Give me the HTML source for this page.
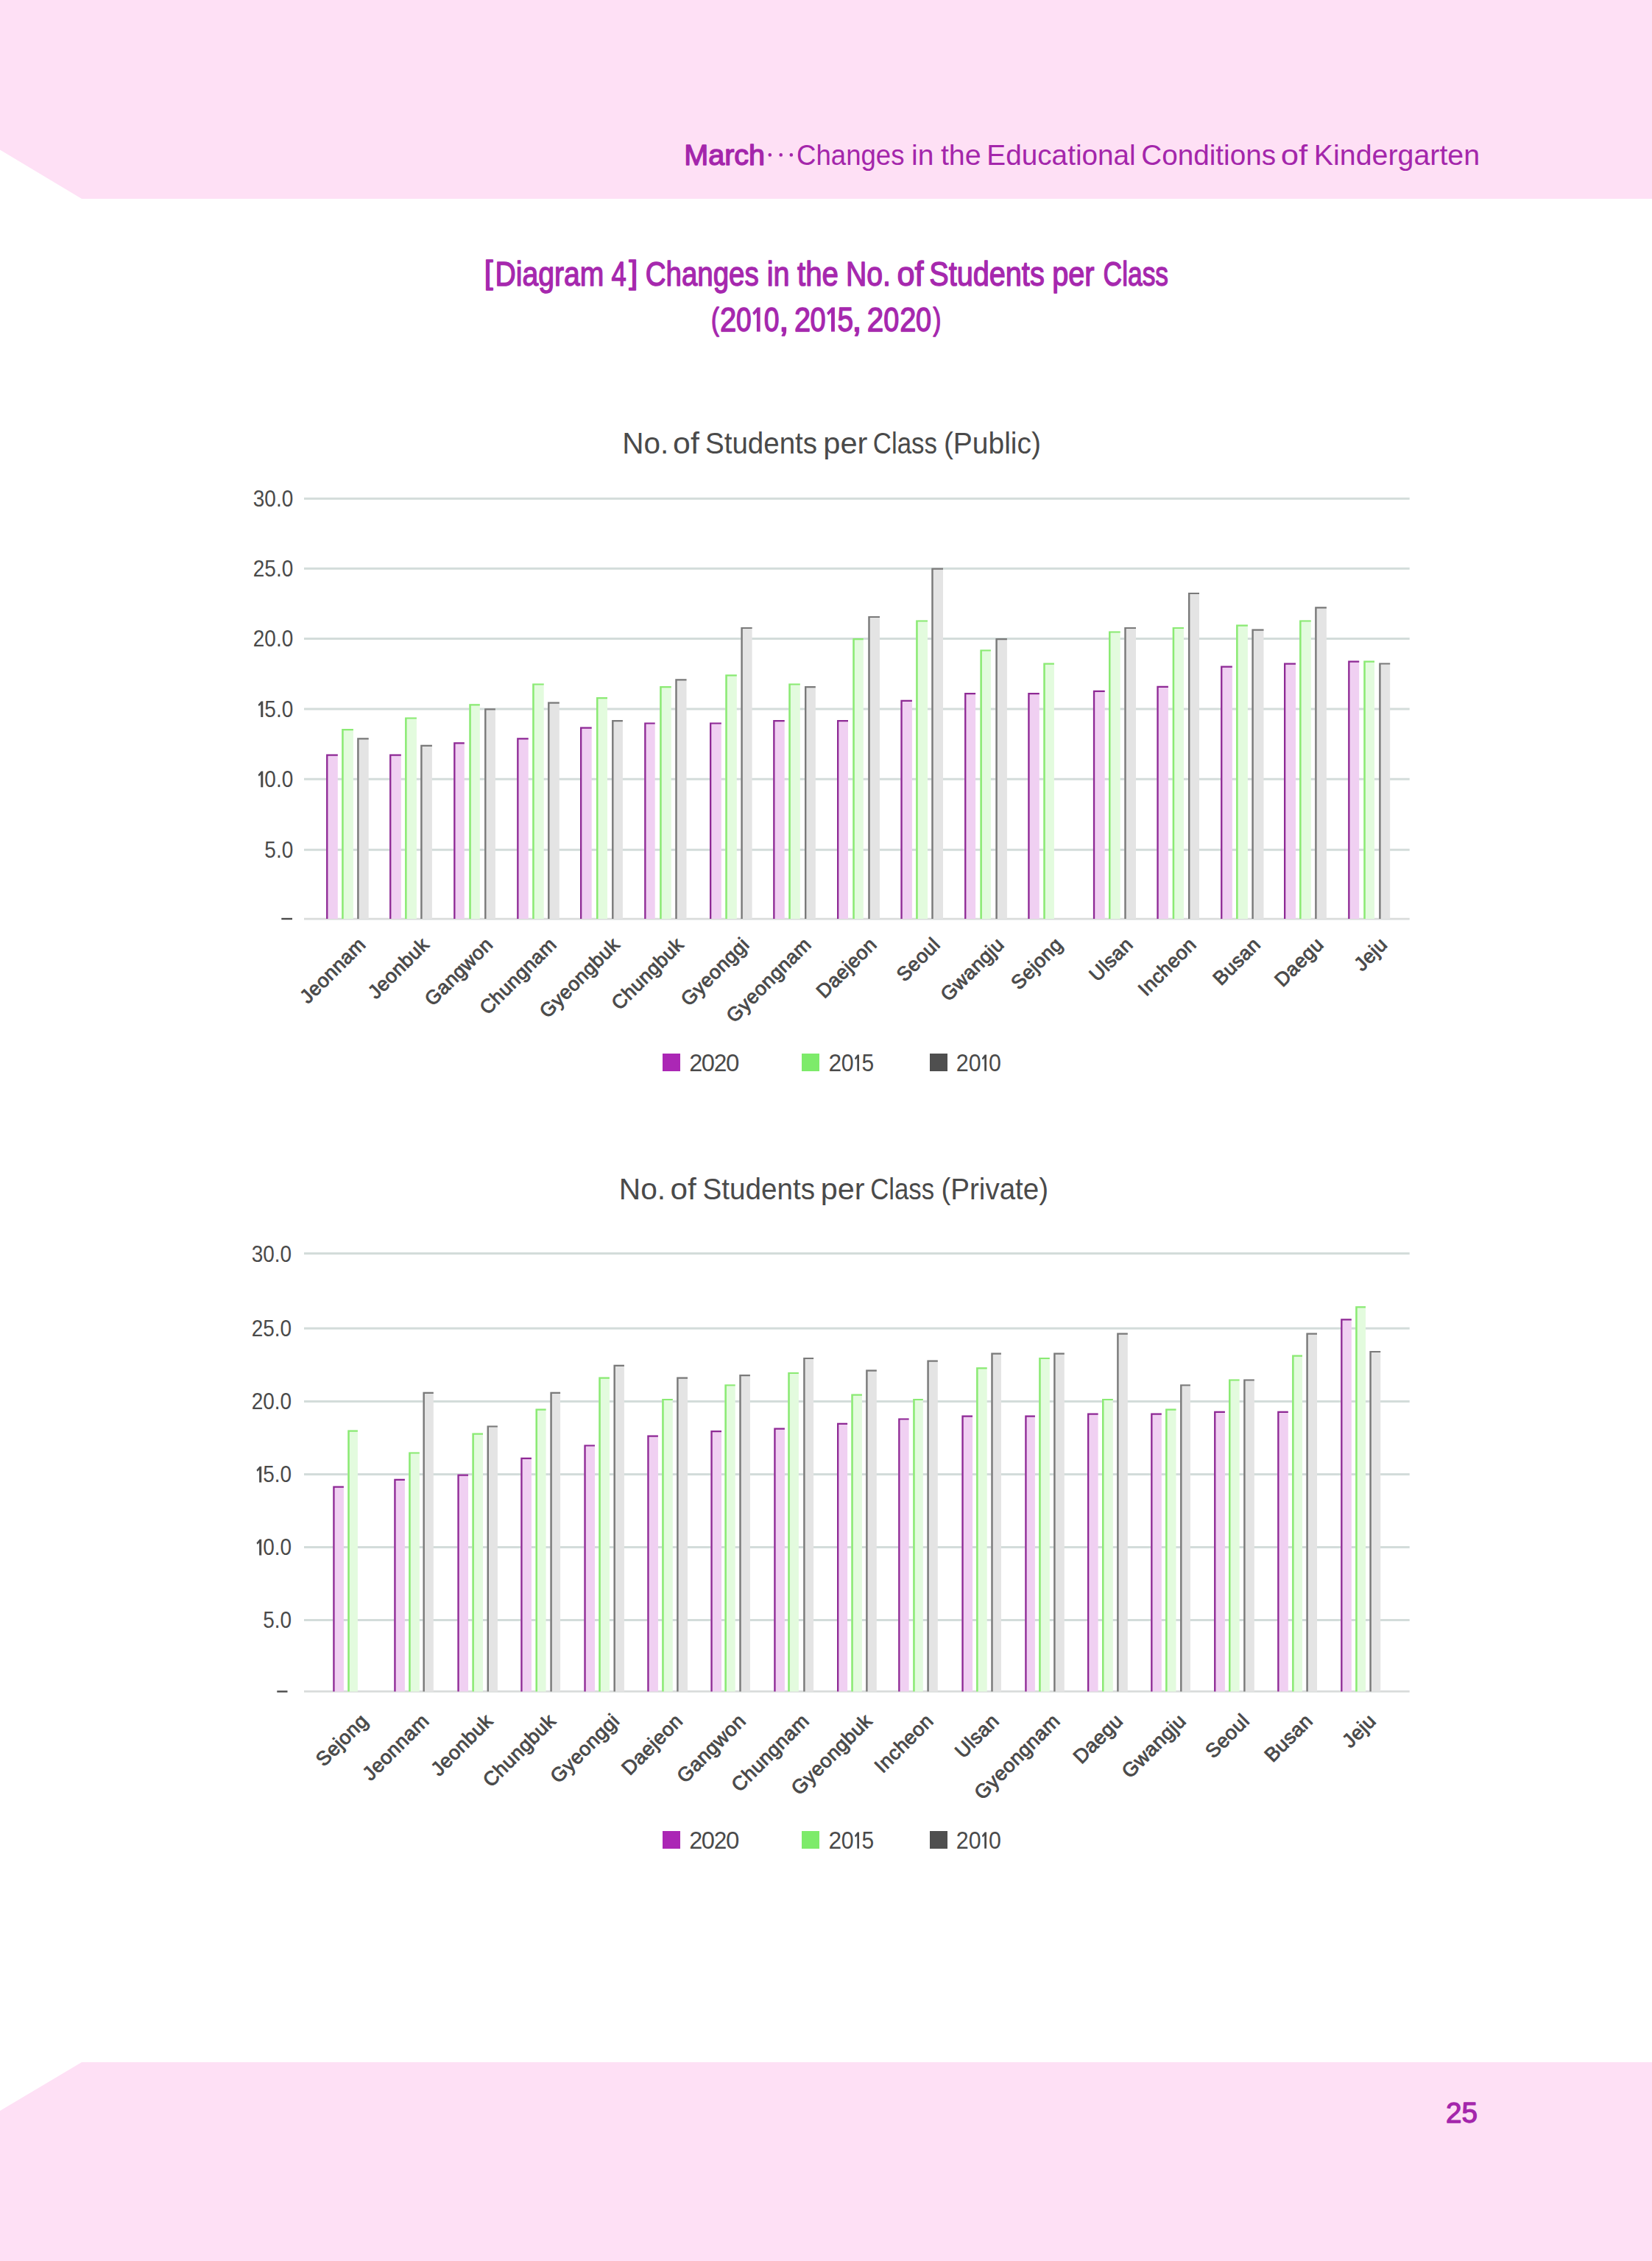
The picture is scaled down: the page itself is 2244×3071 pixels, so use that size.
<!DOCTYPE html>
<html lang="en"><head><meta charset="utf-8"><title>Diagram 4</title>
<style>html,body{margin:0;padding:0;background:#fff}body{width:2244px;height:3071px;overflow:hidden;font-family:"Liberation Sans",sans-serif}svg{display:block}text{font-family:"Liberation Sans",sans-serif;white-space:pre}</style>
</head><body>
<svg width="2244" height="3071" viewBox="0 0 2244 3071">
<polygon points="0,0 2244,0 2244,270 111,270 0,203.5" fill="#FEE0F5"/>
<polygon points="0,2867 111,2801 2244,2801 2244,3071 0,3071" fill="#FEE0F5"/>
<g fill="#A426AB">
<g stroke="#A426AB" stroke-width="1.4" stroke-linejoin="round">
<text transform="matrix(1.0134 0 0 1 929.26 223.90)" font-size="39">March</text>
</g>
<circle cx="1045.8" cy="210.4" r="2.3"/>
<circle cx="1060.7" cy="210.4" r="2.3"/>
<circle cx="1074.8" cy="210.4" r="2.3"/>
<text transform="matrix(0.9383 0 0 1 1082.04 223.90)" font-size="39">Changes</text>
<text transform="matrix(0.9995 0 0 1 1237.99 223.90)" font-size="39">in</text>
<text transform="matrix(1.0117 0 0 1 1277.90 223.90)" font-size="39">the</text>
<text transform="matrix(0.9934 0 0 1 1340.32 223.90)" font-size="39">Educational</text>
<text transform="matrix(0.9923 0 0 1 1550.23 223.90)" font-size="39">Conditions</text>
<text transform="matrix(1.1214 0 0 1 1739.66 223.90)" font-size="39">of</text>
<text transform="matrix(1.0088 0 0 1 1784.87 223.90)" font-size="39">Kindergarten</text>
</g>
<g fill="#A628AE" stroke="#A628AE" stroke-width="1.4" stroke-linejoin="round">
<text transform="matrix(0.9950 0 0 1 657.48 385.00)" font-size="44">[</text>
<text transform="matrix(1.0064 0 0 1 854.25 385.00)" font-size="44">]</text>
<text transform="matrix(0.8508 0 0 1 672.49 387.70)" font-size="46">Diagram</text>
<text transform="matrix(0.7938 0 0 1 830.56 387.70)" font-size="46">4</text>
<text transform="matrix(0.8355 0 0 1 876.85 387.70)" font-size="46">Changes</text>
<text transform="matrix(0.8608 0 0 1 1041.75 387.70)" font-size="46">in</text>
<text transform="matrix(0.8741 0 0 1 1082.99 387.70)" font-size="46">the</text>
<text transform="matrix(0.8521 0 0 1 1148.98 387.70)" font-size="46">No.</text>
<text transform="matrix(0.9398 0 0 1 1218.38 387.70)" font-size="46">of</text>
<text transform="matrix(0.8621 0 0 1 1262.20 387.70)" font-size="46">Students</text>
<text transform="matrix(0.8637 0 0 1 1429.14 387.70)" font-size="46">per</text>
<text transform="matrix(0.7692 0 0 1 1498.60 387.70)" font-size="46">Class</text>
</g>
<g fill="#A628AE" stroke="#A628AE" stroke-width="1.5" stroke-linejoin="round">
<text transform="matrix(0.7632 0 0 1 966.04 447.80)" font-size="42.5">(</text>
<text transform="matrix(0.7632 0 0 1 1267.56 447.80)" font-size="42.5">)</text>
<text transform="matrix(0.8647 0 0 1 977.94 450.30)" font-size="46.2">2</text>
<text transform="matrix(0.8015 0 0 1 1000.00 450.30)" font-size="46.2">0</text>
<text transform="matrix(0.8060 0 0 1 1037.70 450.30)" font-size="46.2">0</text>
<text transform="matrix(1.1027 0 0 1 1057.87 450.30)" font-size="46.2">,</text>
<text transform="matrix(0.8600 0 0 1 1078.95 450.30)" font-size="46.2">2</text>
<text transform="matrix(0.8196 0 0 1 1100.47 450.30)" font-size="46.2">0</text>
<text transform="matrix(0.8400 0 0 1 1137.50 450.30)" font-size="46.2">5</text>
<text transform="matrix(1.0365 0 0 1 1157.25 450.30)" font-size="46.2">,</text>
<text transform="matrix(0.8742 0 0 1 1177.82 450.30)" font-size="46.2">2</text>
<text transform="matrix(0.8196 0 0 1 1200.17 450.30)" font-size="46.2">0</text>
<text transform="matrix(0.8600 0 0 1 1222.15 450.30)" font-size="46.2">2</text>
<text transform="matrix(0.8196 0 0 1 1244.07 450.30)" font-size="46.2">0</text>
</g>
<g fill="#A628AE">
<polygon points="1032.60,417.60 1032.60,450.60 1027.90,450.60 1027.90,424.30 1024.31,428.19 1022.10,424.99 1028.61,417.60"/>
<polygon points="1133.90,417.60 1133.90,450.60 1129.02,450.60 1129.02,424.30 1125.29,428.19 1123.00,424.99 1129.76,417.60"/>
</g>
<g fill="#4A4A4A">
<text transform="matrix(0.9758 0 0 1 845.18 615.90)" font-size="41.5">No.</text>
<text transform="matrix(1.0325 0 0 1 914.10 615.90)" font-size="41.5">of</text>
<text transform="matrix(0.9281 0 0 1 958.05 615.90)" font-size="41.5">Students</text>
<text transform="matrix(1.0032 0 0 1 1118.32 615.90)" font-size="41.5">per</text>
<text transform="matrix(0.8406 0 0 1 1185.73 615.90)" font-size="41.5">Class</text>
<text transform="matrix(0.9393 0 0 1 1281.88 615.90)" font-size="41.5">(Public)</text>
</g>
<g stroke="#D3DCDA" stroke-width="3">
<line x1="413" x2="1914.7" y1="1154.3" y2="1154.3"/>
<line x1="413" x2="1914.7" y1="1058.3" y2="1058.3"/>
<line x1="413" x2="1914.7" y1="963.1" y2="963.1"/>
<line x1="413" x2="1914.7" y1="867.5" y2="867.5"/>
<line x1="413" x2="1914.7" y1="772.2" y2="772.2"/>
<line x1="413" x2="1914.7" y1="677.3" y2="677.3"/>
</g>
<line x1="413" x2="1914.7" y1="1248.1" y2="1248.1" stroke="#D9DCDB" stroke-width="2.6"/>
<g fill="#4A4A4A">
<text transform="matrix(0.8900 0 0 1 359.34 1165.20)" font-size="31.4">5.0</text>
<text transform="matrix(0.8900 0 0 1 359.34 1069.20)" font-size="31.4">0.0</text>
<polygon points="357.30,1047.60 357.30,1069.20 354.25,1069.20 354.25,1051.98 351.93,1054.53 350.50,1052.44 354.72,1047.60"/>
<text transform="matrix(0.8900 0 0 1 359.34 974.00)" font-size="31.4">5.0</text>
<polygon points="357.30,952.40 357.30,974.00 354.25,974.00 354.25,956.78 351.93,959.33 350.50,957.24 354.72,952.40"/>
<text transform="matrix(0.8900 0 0 1 343.80 878.40)" font-size="31.4">20.0</text>
<text transform="matrix(0.8900 0 0 1 343.80 783.10)" font-size="31.4">25.0</text>
<text transform="matrix(0.8900 0 0 1 343.80 688.20)" font-size="31.4">30.0</text>
</g>
<rect x="382.3" y="1246.8" width="14.7" height="2.4" fill="#4A4A4A"/>
<g fill="#F0D0F2">
<rect x="443.1" y="1024.5" width="15.7" height="223.5"/>
<rect x="529.1" y="1024.5" width="15.7" height="223.5"/>
<rect x="616.2" y="1008.3" width="14.6" height="239.7"/>
<rect x="702.2" y="1002.2" width="15.5" height="245.8"/>
<rect x="788.0" y="987.5" width="15.7" height="260.5"/>
<rect x="875.2" y="981.4" width="14.5" height="266.6"/>
<rect x="964.0" y="981.4" width="15.8" height="266.6"/>
<rect x="1050.2" y="978.0" width="15.5" height="270.0"/>
<rect x="1137.0" y="978.0" width="15.0" height="270.0"/>
<rect x="1223.4" y="950.7" width="15.5" height="297.3"/>
<rect x="1310.1" y="941.0" width="15.0" height="307.0"/>
<rect x="1396.3" y="941.0" width="15.5" height="307.0"/>
<rect x="1484.9" y="937.8" width="15.8" height="310.2"/>
<rect x="1571.4" y="931.8" width="15.5" height="316.2"/>
<rect x="1658.1" y="904.6" width="15.7" height="343.4"/>
<rect x="1744.0" y="900.5" width="16.0" height="347.5"/>
<rect x="1831.2" y="897.5" width="15.0" height="350.5"/>
</g>
<g fill="#8E2A95">
<path d="M443.1 1248.0V1024.5H458.8v2.2H445.4V1248.0z"/>
<path d="M529.1 1248.0V1024.5H544.8v2.2H531.4V1248.0z"/>
<path d="M616.2 1248.0V1008.3H630.8v2.2H618.5V1248.0z"/>
<path d="M702.2 1248.0V1002.2H717.7v2.2H704.5V1248.0z"/>
<path d="M788.0 1248.0V987.5H803.7v2.2H790.3V1248.0z"/>
<path d="M875.2 1248.0V981.4H889.7v2.2H877.5V1248.0z"/>
<path d="M964.0 1248.0V981.4H979.8v2.2H966.3V1248.0z"/>
<path d="M1050.2 1248.0V978.0H1065.7v2.2H1052.5V1248.0z"/>
<path d="M1137.0 1248.0V978.0H1152.0v2.2H1139.3V1248.0z"/>
<path d="M1223.4 1248.0V950.7H1238.9v2.2H1225.7V1248.0z"/>
<path d="M1310.1 1248.0V941.0H1325.1v2.2H1312.4V1248.0z"/>
<path d="M1396.3 1248.0V941.0H1411.8v2.2H1398.6V1248.0z"/>
<path d="M1484.9 1248.0V937.8H1500.7v2.2H1487.2V1248.0z"/>
<path d="M1571.4 1248.0V931.8H1586.9v2.2H1573.7V1248.0z"/>
<path d="M1658.1 1248.0V904.6H1673.8v2.2H1660.4V1248.0z"/>
<path d="M1744.0 1248.0V900.5H1760.0v2.2H1746.3V1248.0z"/>
<path d="M1831.2 1248.0V897.5H1846.2v2.2H1833.5V1248.0z"/>
</g>
<g fill="#E3FBDE">
<rect x="464.2" y="990.1" width="15.7" height="257.9"/>
<rect x="550.1" y="974.4" width="15.8" height="273.6"/>
<rect x="637.3" y="956.2" width="14.5" height="291.8"/>
<rect x="723.2" y="928.4" width="15.5" height="319.6"/>
<rect x="810.0" y="947.0" width="15.0" height="301.0"/>
<rect x="896.2" y="932.0" width="15.5" height="316.0"/>
<rect x="985.3" y="916.3" width="15.5" height="331.7"/>
<rect x="1071.3" y="928.4" width="15.5" height="319.6"/>
<rect x="1158.3" y="867.1" width="14.5" height="380.9"/>
<rect x="1244.2" y="842.4" width="15.8" height="405.6"/>
<rect x="1331.4" y="882.4" width="14.5" height="365.6"/>
<rect x="1417.3" y="900.5" width="14.6" height="347.5"/>
<rect x="1506.0" y="857.4" width="15.7" height="390.6"/>
<rect x="1592.7" y="851.9" width="15.3" height="396.1"/>
<rect x="1679.1" y="848.5" width="15.8" height="399.5"/>
<rect x="1765.1" y="842.4" width="15.7" height="405.6"/>
<rect x="1852.3" y="897.5" width="14.7" height="350.5"/>
</g>
<g fill="#8BEA74">
<path d="M464.2 1248.0V990.1H479.9v2.2H466.7V1248.0z"/>
<path d="M550.1 1248.0V974.4H565.9v2.2H552.6V1248.0z"/>
<path d="M637.3 1248.0V956.2H651.8v2.2H639.8V1248.0z"/>
<path d="M723.2 1248.0V928.4H738.7v2.2H725.7V1248.0z"/>
<path d="M810.0 1248.0V947.0H825.0v2.2H812.5V1248.0z"/>
<path d="M896.2 1248.0V932.0H911.7v2.2H898.7V1248.0z"/>
<path d="M985.3 1248.0V916.3H1000.8v2.2H987.8V1248.0z"/>
<path d="M1071.3 1248.0V928.4H1086.8v2.2H1073.8V1248.0z"/>
<path d="M1158.3 1248.0V867.1H1172.8v2.2H1160.8V1248.0z"/>
<path d="M1244.2 1248.0V842.4H1260.0v2.2H1246.7V1248.0z"/>
<path d="M1331.4 1248.0V882.4H1345.9v2.2H1333.9V1248.0z"/>
<path d="M1417.3 1248.0V900.5H1431.9v2.2H1419.8V1248.0z"/>
<path d="M1506.0 1248.0V857.4H1521.7v2.2H1508.5V1248.0z"/>
<path d="M1592.7 1248.0V851.9H1608.0v2.2H1595.2V1248.0z"/>
<path d="M1679.1 1248.0V848.5H1694.9v2.2H1681.6V1248.0z"/>
<path d="M1765.1 1248.0V842.4H1780.8v2.2H1767.6V1248.0z"/>
<path d="M1852.3 1248.0V897.5H1867.0v2.2H1854.8V1248.0z"/>
</g>
<g fill="#E4E4E4">
<rect x="485.2" y="1002.2" width="15.5" height="245.8"/>
<rect x="571.2" y="1011.7" width="15.7" height="236.3"/>
<rect x="658.1" y="962.3" width="14.8" height="285.7"/>
<rect x="744.1" y="953.6" width="15.7" height="294.4"/>
<rect x="831.1" y="978.0" width="14.8" height="270.0"/>
<rect x="917.3" y="922.3" width="15.2" height="325.7"/>
<rect x="1006.4" y="851.9" width="15.2" height="396.1"/>
<rect x="1093.0" y="932.0" width="14.8" height="316.0"/>
<rect x="1179.3" y="836.9" width="15.7" height="411.1"/>
<rect x="1265.3" y="771.5" width="15.7" height="476.5"/>
<rect x="1352.4" y="867.1" width="15.5" height="380.9"/>
<rect x="1527.3" y="851.9" width="15.7" height="396.1"/>
<rect x="1614.0" y="804.9" width="15.0" height="443.1"/>
<rect x="1700.4" y="854.5" width="16.1" height="393.5"/>
<rect x="1786.2" y="824.3" width="15.7" height="423.7"/>
<rect x="1873.2" y="900.4" width="15.0" height="347.6"/>
</g>
<g fill="#7A7A7A">
<path d="M485.2 1248.0V1002.2H500.7v2.2H487.6V1248.0z"/>
<path d="M571.2 1248.0V1011.7H586.9v2.2H573.6V1248.0z"/>
<path d="M658.1 1248.0V962.3H672.9v2.2H660.5V1248.0z"/>
<path d="M744.1 1248.0V953.6H759.8v2.2H746.5V1248.0z"/>
<path d="M831.1 1248.0V978.0H845.9v2.2H833.5V1248.0z"/>
<path d="M917.3 1248.0V922.3H932.5v2.2H919.7V1248.0z"/>
<path d="M1006.4 1248.0V851.9H1021.6v2.2H1008.8V1248.0z"/>
<path d="M1093.0 1248.0V932.0H1107.8v2.2H1095.4V1248.0z"/>
<path d="M1179.3 1248.0V836.9H1195.0v2.2H1181.7V1248.0z"/>
<path d="M1265.3 1248.0V771.5H1281.0v2.2H1267.7V1248.0z"/>
<path d="M1352.4 1248.0V867.1H1367.9v2.2H1354.8V1248.0z"/>
<path d="M1527.3 1248.0V851.9H1543.0v2.2H1529.7V1248.0z"/>
<path d="M1614.0 1248.0V804.9H1629.0v2.2H1616.4V1248.0z"/>
<path d="M1700.4 1248.0V854.5H1716.5v2.2H1702.8V1248.0z"/>
<path d="M1786.2 1248.0V824.3H1801.9v2.2H1788.6V1248.0z"/>
<path d="M1873.2 1248.0V900.4H1888.2v2.2H1875.6V1248.0z"/>
</g>
<g font-size="26.6" fill="#4A4A4A" stroke="#4A4A4A" stroke-width="0.9" stroke-linejoin="round" letter-spacing="0.55" text-anchor="end">
<text x="498.4" y="1284.5" transform="rotate(-45 498.4 1284.5)">Jeonnam</text>
<text x="584.5" y="1284.5" transform="rotate(-45 584.5 1284.5)">Jeonbuk</text>
<text x="671.0" y="1284.5" transform="rotate(-45 671.0 1284.5)">Gangwon</text>
<text x="757.5" y="1284.5" transform="rotate(-45 757.5 1284.5)">Chungnam</text>
<text x="843.5" y="1284.5" transform="rotate(-45 843.5 1284.5)">Gyeongbuk</text>
<text x="930.4" y="1284.5" transform="rotate(-45 930.4 1284.5)">Chungbuk</text>
<text x="1019.3" y="1284.5" transform="rotate(-45 1019.3 1284.5)">Gyeonggi</text>
<text x="1103.5" y="1284.5" transform="rotate(-45 1103.5 1284.5)">Gyeongnam</text>
<text x="1192.5" y="1284.5" transform="rotate(-45 1192.5 1284.5)">Daejeon</text>
<text x="1278.7" y="1284.5" transform="rotate(-45 1278.7 1284.5)">Seoul</text>
<text x="1365.5" y="1284.5" transform="rotate(-45 1365.5 1284.5)">Gwangju</text>
<text x="1445.1" y="1284.5" transform="rotate(-45 1445.1 1284.5)">Sejong</text>
<text x="1540.5" y="1284.5" transform="rotate(-45 1540.5 1284.5)">Ulsan</text>
<text x="1626.7" y="1284.5" transform="rotate(-45 1626.7 1284.5)">Incheon</text>
<text x="1713.8" y="1284.5" transform="rotate(-45 1713.8 1284.5)">Busan</text>
<text x="1799.5" y="1284.5" transform="rotate(-45 1799.5 1284.5)">Daegu</text>
<text x="1886.2" y="1284.5" transform="rotate(-45 1886.2 1284.5)">Jeju</text>
</g>
<rect x="900" y="1431" width="24" height="24" fill="#AB27B5"/>
<rect x="1089" y="1431" width="24" height="24" fill="#7DEB6A"/>
<rect x="1263" y="1431" width="24" height="24" fill="#4F4F4F"/>
<g fill="#4A4A4A">
<text transform="matrix(1.0058 0 0 1 936.37 1454.70)" font-size="32.3">2</text>
<text transform="matrix(1.0103 0 0 1 952.83 1454.70)" font-size="32.3">0</text>
<text transform="matrix(0.9786 0 0 1 969.71 1454.70)" font-size="32.3">2</text>
<text transform="matrix(1.0233 0 0 1 986.11 1454.70)" font-size="32.3">0</text>
<text transform="matrix(0.9854 0 0 1 1125.60 1454.70)" font-size="32.3">2</text>
<text transform="matrix(0.9391 0 0 1 1142.72 1454.70)" font-size="32.3">0</text>
<text transform="matrix(0.9272 0 0 1 1170.50 1454.70)" font-size="32.3">5</text>
<text transform="matrix(0.9446 0 0 1 1298.77 1454.70)" font-size="32.3">2</text>
<text transform="matrix(0.9391 0 0 1 1315.82 1454.70)" font-size="32.3">0</text>
<text transform="matrix(0.9391 0 0 1 1343.02 1454.70)" font-size="32.3">0</text>
<polygon points="1167.00,1432.40 1167.00,1454.70 1164.27,1454.70 1164.27,1436.93 1162.18,1439.56 1160.90,1437.40 1164.68,1432.40"/>
<polygon points="1340.00,1432.40 1340.00,1454.70 1337.22,1454.70 1337.22,1436.93 1335.10,1439.56 1333.80,1437.40 1337.64,1432.40"/>
</g>
<g fill="#4A4A4A">
<text transform="matrix(0.9811 0 0 1 840.76 1628.90)" font-size="41.5">No.</text>
<text transform="matrix(1.0204 0 0 1 910.42 1628.90)" font-size="41.5">of</text>
<text transform="matrix(0.9306 0 0 1 954.55 1628.90)" font-size="41.5">Students</text>
<text transform="matrix(0.9979 0 0 1 1114.73 1628.90)" font-size="41.5">per</text>
<text transform="matrix(0.8376 0 0 1 1182.13 1628.90)" font-size="41.5">Class</text>
<text transform="matrix(0.9298 0 0 1 1278.41 1628.90)" font-size="41.5">(Private)</text>
</g>
<g stroke="#D3DCDA" stroke-width="3">
<line x1="413" x2="1914.7" y1="2200.4" y2="2200.4"/>
<line x1="413" x2="1914.7" y1="2101.5" y2="2101.5"/>
<line x1="413" x2="1914.7" y1="2002.5" y2="2002.5"/>
<line x1="413" x2="1914.7" y1="1903.5" y2="1903.5"/>
<line x1="413" x2="1914.7" y1="1804.2" y2="1804.2"/>
<line x1="413" x2="1914.7" y1="1702.6" y2="1702.6"/>
</g>
<line x1="413" x2="1914.7" y1="2297.4" y2="2297.4" stroke="#D9DCDB" stroke-width="2.6"/>
<g fill="#4A4A4A">
<text transform="matrix(0.8900 0 0 1 357.24 2211.30)" font-size="31.4">5.0</text>
<text transform="matrix(0.8900 0 0 1 357.24 2112.40)" font-size="31.4">0.0</text>
<polygon points="355.20,2090.80 355.20,2112.40 352.15,2112.40 352.15,2095.18 349.83,2097.73 348.40,2095.64 352.62,2090.80"/>
<text transform="matrix(0.8900 0 0 1 357.24 2013.40)" font-size="31.4">5.0</text>
<polygon points="355.20,1991.80 355.20,2013.40 352.15,2013.40 352.15,1996.18 349.83,1998.73 348.40,1996.64 352.62,1991.80"/>
<text transform="matrix(0.8900 0 0 1 341.70 1914.40)" font-size="31.4">20.0</text>
<text transform="matrix(0.8900 0 0 1 341.70 1815.10)" font-size="31.4">25.0</text>
<text transform="matrix(0.8900 0 0 1 341.70 1713.50)" font-size="31.4">30.0</text>
</g>
<rect x="376.3" y="2296.3" width="14.2" height="2.4" fill="#4A4A4A"/>
<g fill="#F0D0F2">
<rect x="452.3" y="2018.6" width="14.6" height="278.9"/>
<rect x="535.3" y="2008.7" width="14.6" height="288.8"/>
<rect x="621.4" y="2002.6" width="14.6" height="294.9"/>
<rect x="707.3" y="1979.7" width="14.6" height="317.8"/>
<rect x="793.4" y="1962.4" width="14.6" height="335.1"/>
<rect x="879.3" y="1949.5" width="14.6" height="348.0"/>
<rect x="965.4" y="1943.0" width="14.6" height="354.5"/>
<rect x="1051.3" y="1939.6" width="14.6" height="357.9"/>
<rect x="1137.0" y="1932.7" width="14.1" height="364.8"/>
<rect x="1220.2" y="1926.4" width="14.4" height="371.1"/>
<rect x="1306.4" y="1922.5" width="14.6" height="375.0"/>
<rect x="1392.3" y="1922.5" width="13.6" height="375.0"/>
<rect x="1477.0" y="1919.6" width="14.6" height="377.9"/>
<rect x="1563.2" y="1919.6" width="14.6" height="377.9"/>
<rect x="1649.1" y="1916.7" width="14.8" height="380.8"/>
<rect x="1735.2" y="1916.7" width="14.6" height="380.8"/>
<rect x="1821.2" y="1791.3" width="14.6" height="506.2"/>
</g>
<g fill="#8E2A95">
<path d="M452.3 2297.5V2018.6H466.9v2.2H454.6V2297.5z"/>
<path d="M535.3 2297.5V2008.7H549.9v2.2H537.6V2297.5z"/>
<path d="M621.4 2297.5V2002.6H636.0v2.2H623.7V2297.5z"/>
<path d="M707.3 2297.5V1979.7H721.9v2.2H709.6V2297.5z"/>
<path d="M793.4 2297.5V1962.4H808.0v2.2H795.7V2297.5z"/>
<path d="M879.3 2297.5V1949.5H893.9v2.2H881.6V2297.5z"/>
<path d="M965.4 2297.5V1943.0H980.0v2.2H967.7V2297.5z"/>
<path d="M1051.3 2297.5V1939.6H1065.9v2.2H1053.6V2297.5z"/>
<path d="M1137.0 2297.5V1932.7H1151.1v2.2H1139.3V2297.5z"/>
<path d="M1220.2 2297.5V1926.4H1234.6v2.2H1222.5V2297.5z"/>
<path d="M1306.4 2297.5V1922.5H1321.0v2.2H1308.7V2297.5z"/>
<path d="M1392.3 2297.5V1922.5H1405.9v2.2H1394.6V2297.5z"/>
<path d="M1477.0 2297.5V1919.6H1491.6v2.2H1479.3V2297.5z"/>
<path d="M1563.2 2297.5V1919.6H1577.8v2.2H1565.5V2297.5z"/>
<path d="M1649.1 2297.5V1916.7H1663.9v2.2H1651.4V2297.5z"/>
<path d="M1735.2 2297.5V1916.7H1749.8v2.2H1737.5V2297.5z"/>
<path d="M1821.2 2297.5V1791.3H1835.8v2.2H1823.5V2297.5z"/>
</g>
<g fill="#E3FBDE">
<rect x="472.3" y="1942.5" width="13.6" height="355.0"/>
<rect x="555.2" y="1972.4" width="14.6" height="325.1"/>
<rect x="641.4" y="1946.6" width="14.6" height="350.9"/>
<rect x="727.5" y="1913.5" width="14.1" height="384.0"/>
<rect x="813.3" y="1870.5" width="14.6" height="427.0"/>
<rect x="899.2" y="1899.9" width="14.6" height="397.6"/>
<rect x="984.4" y="1880.4" width="14.3" height="417.1"/>
<rect x="1070.3" y="1863.9" width="14.6" height="433.6"/>
<rect x="1156.3" y="1893.6" width="14.6" height="403.9"/>
<rect x="1240.2" y="1899.9" width="13.6" height="397.6"/>
<rect x="1326.1" y="1857.3" width="14.6" height="440.2"/>
<rect x="1411.2" y="1843.9" width="14.6" height="453.6"/>
<rect x="1497.0" y="1899.9" width="14.8" height="397.6"/>
<rect x="1583.1" y="1913.5" width="14.4" height="384.0"/>
<rect x="1669.0" y="1873.4" width="14.6" height="424.1"/>
<rect x="1755.1" y="1840.5" width="13.9" height="457.0"/>
<rect x="1841.2" y="1774.3" width="13.8" height="523.2"/>
</g>
<g fill="#8BEA74">
<path d="M472.3 2297.5V1942.5H485.9v2.2H474.8V2297.5z"/>
<path d="M555.2 2297.5V1972.4H569.8v2.2H557.7V2297.5z"/>
<path d="M641.4 2297.5V1946.6H656.0v2.2H643.9V2297.5z"/>
<path d="M727.5 2297.5V1913.5H741.6v2.2H730.0V2297.5z"/>
<path d="M813.3 2297.5V1870.5H827.9v2.2H815.8V2297.5z"/>
<path d="M899.2 2297.5V1899.9H913.8v2.2H901.7V2297.5z"/>
<path d="M984.4 2297.5V1880.4H998.7v2.2H986.9V2297.5z"/>
<path d="M1070.3 2297.5V1863.9H1084.9v2.2H1072.8V2297.5z"/>
<path d="M1156.3 2297.5V1893.6H1170.9v2.2H1158.8V2297.5z"/>
<path d="M1240.2 2297.5V1899.9H1253.8v2.2H1242.7V2297.5z"/>
<path d="M1326.1 2297.5V1857.3H1340.7v2.2H1328.6V2297.5z"/>
<path d="M1411.2 2297.5V1843.9H1425.8v2.2H1413.7V2297.5z"/>
<path d="M1497.0 2297.5V1899.9H1511.8v2.2H1499.5V2297.5z"/>
<path d="M1583.1 2297.5V1913.5H1597.5v2.2H1585.6V2297.5z"/>
<path d="M1669.0 2297.5V1873.4H1683.6v2.2H1671.5V2297.5z"/>
<path d="M1755.1 2297.5V1840.5H1769.0v2.2H1757.6V2297.5z"/>
<path d="M1841.2 2297.5V1774.3H1855.0v2.2H1843.7V2297.5z"/>
</g>
<g fill="#E4E4E4">
<rect x="574.5" y="1890.7" width="14.3" height="406.8"/>
<rect x="661.6" y="1936.4" width="14.3" height="361.1"/>
<rect x="747.4" y="1890.7" width="13.7" height="406.8"/>
<rect x="833.5" y="1853.7" width="14.4" height="443.8"/>
<rect x="919.2" y="1870.5" width="14.8" height="427.0"/>
<rect x="1004.3" y="1867.1" width="14.6" height="430.4"/>
<rect x="1091.2" y="1843.9" width="13.9" height="453.6"/>
<rect x="1176.2" y="1860.5" width="14.6" height="437.0"/>
<rect x="1259.4" y="1847.6" width="14.4" height="449.9"/>
<rect x="1346.3" y="1837.6" width="13.6" height="459.9"/>
<rect x="1431.2" y="1837.6" width="14.6" height="459.9"/>
<rect x="1517.2" y="1810.6" width="14.6" height="486.9"/>
<rect x="1603.1" y="1880.4" width="13.8" height="417.1"/>
<rect x="1689.2" y="1873.4" width="14.6" height="424.1"/>
<rect x="1774.4" y="1810.6" width="14.6" height="486.9"/>
<rect x="1860.4" y="1834.9" width="14.8" height="462.6"/>
</g>
<g fill="#7A7A7A">
<path d="M574.5 2297.5V1890.7H588.8v2.2H576.9V2297.5z"/>
<path d="M661.6 2297.5V1936.4H675.9v2.2H664.0V2297.5z"/>
<path d="M747.4 2297.5V1890.7H761.1v2.2H749.8V2297.5z"/>
<path d="M833.5 2297.5V1853.7H847.9v2.2H835.9V2297.5z"/>
<path d="M919.2 2297.5V1870.5H934.0v2.2H921.6V2297.5z"/>
<path d="M1004.3 2297.5V1867.1H1018.9v2.2H1006.7V2297.5z"/>
<path d="M1091.2 2297.5V1843.9H1105.1v2.2H1093.6V2297.5z"/>
<path d="M1176.2 2297.5V1860.5H1190.8v2.2H1178.6V2297.5z"/>
<path d="M1259.4 2297.5V1847.6H1273.8v2.2H1261.8V2297.5z"/>
<path d="M1346.3 2297.5V1837.6H1359.9v2.2H1348.7V2297.5z"/>
<path d="M1431.2 2297.5V1837.6H1445.8v2.2H1433.6V2297.5z"/>
<path d="M1517.2 2297.5V1810.6H1531.8v2.2H1519.6V2297.5z"/>
<path d="M1603.1 2297.5V1880.4H1616.9v2.2H1605.5V2297.5z"/>
<path d="M1689.2 2297.5V1873.4H1703.8v2.2H1691.6V2297.5z"/>
<path d="M1774.4 2297.5V1810.6H1789.0v2.2H1776.8V2297.5z"/>
<path d="M1860.4 2297.5V1834.9H1875.2v2.2H1862.8V2297.5z"/>
</g>
<g font-size="26.9" fill="#4A4A4A" stroke="#4A4A4A" stroke-width="0.9" stroke-linejoin="round" letter-spacing="0.55" text-anchor="end">
<text x="501.6" y="2339.0" transform="rotate(-45 501.6 2339.0)">Sejong</text>
<text x="584.5" y="2339.0" transform="rotate(-45 584.5 2339.0)">Jeonnam</text>
<text x="671.1" y="2339.0" transform="rotate(-45 671.1 2339.0)">Jeonbuk</text>
<text x="756.7" y="2339.0" transform="rotate(-45 756.7 2339.0)">Chungbuk</text>
<text x="843.1" y="2339.0" transform="rotate(-45 843.1 2339.0)">Gyeonggi</text>
<text x="929.1" y="2339.0" transform="rotate(-45 929.1 2339.0)">Daejeon</text>
<text x="1014.6" y="2339.0" transform="rotate(-45 1014.6 2339.0)">Gangwon</text>
<text x="1100.7" y="2339.0" transform="rotate(-45 1100.7 2339.0)">Chungnam</text>
<text x="1186.4" y="2339.0" transform="rotate(-45 1186.4 2339.0)">Gyeongbuk</text>
<text x="1269.5" y="2339.0" transform="rotate(-45 1269.5 2339.0)">Incheon</text>
<text x="1358.7" y="2339.0" transform="rotate(-45 1358.7 2339.0)">Ulsan</text>
<text x="1441.5" y="2339.0" transform="rotate(-45 1441.5 2339.0)">Gyeongnam</text>
<text x="1526.9" y="2339.0" transform="rotate(-45 1526.9 2339.0)">Daegu</text>
<text x="1612.6" y="2339.0" transform="rotate(-45 1612.6 2339.0)">Gwangju</text>
<text x="1698.9" y="2339.0" transform="rotate(-45 1698.9 2339.0)">Seoul</text>
<text x="1784.6" y="2339.0" transform="rotate(-45 1784.6 2339.0)">Busan</text>
<text x="1870.7" y="2339.0" transform="rotate(-45 1870.7 2339.0)">Jeju</text>
</g>
<rect x="900" y="2487" width="24" height="24" fill="#AB27B5"/>
<rect x="1089" y="2487" width="24" height="24" fill="#7DEB6A"/>
<rect x="1263" y="2487" width="24" height="24" fill="#4F4F4F"/>
<g fill="#4A4A4A">
<text transform="matrix(1.0058 0 0 1 936.37 2510.70)" font-size="32.3">2</text>
<text transform="matrix(1.0103 0 0 1 952.83 2510.70)" font-size="32.3">0</text>
<text transform="matrix(0.9786 0 0 1 969.71 2510.70)" font-size="32.3">2</text>
<text transform="matrix(1.0233 0 0 1 986.11 2510.70)" font-size="32.3">0</text>
<text transform="matrix(0.9854 0 0 1 1125.60 2510.70)" font-size="32.3">2</text>
<text transform="matrix(0.9391 0 0 1 1142.72 2510.70)" font-size="32.3">0</text>
<text transform="matrix(0.9272 0 0 1 1170.50 2510.70)" font-size="32.3">5</text>
<text transform="matrix(0.9446 0 0 1 1298.77 2510.70)" font-size="32.3">2</text>
<text transform="matrix(0.9391 0 0 1 1315.82 2510.70)" font-size="32.3">0</text>
<text transform="matrix(0.9391 0 0 1 1343.02 2510.70)" font-size="32.3">0</text>
<polygon points="1167.00,2488.40 1167.00,2510.70 1164.27,2510.70 1164.27,2492.93 1162.18,2495.56 1160.90,2493.40 1164.68,2488.40"/>
<polygon points="1340.00,2488.40 1340.00,2510.70 1337.22,2510.70 1337.22,2492.93 1335.10,2495.56 1333.80,2493.40 1337.64,2488.40"/>
</g>
<g fill="#A426AB" stroke="#A426AB" stroke-width="1.3" stroke-linejoin="round">
<text transform="matrix(1.0033 0 0 1 1964.01 2883.40)" font-size="38.5">25</text>
</g>
</svg>
</body></html>
